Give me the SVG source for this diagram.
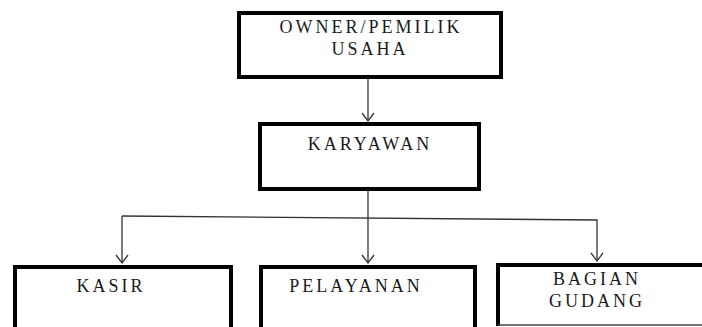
<svg xmlns="http://www.w3.org/2000/svg" width="702" height="327" viewBox="0 0 702 327">
<defs>
<style>
.box{fill:#fff;stroke:#000;stroke-width:4}
.lbl{font-family:"Liberation Serif","DejaVu Serif",serif;font-size:18px;letter-spacing:3px;fill:#1a1a1a;text-anchor:middle}
.con{fill:none;stroke:#333;stroke-width:1.3}
</style>
<marker id="arr" markerUnits="userSpaceOnUse" markerWidth="14" markerHeight="14" refX="12" refY="7" orient="auto" viewBox="0 0 14 14">
<path d="M4,1 L12,7 L4,13" fill="none" stroke="#333" stroke-width="1.3"/>
</marker>
</defs>
<rect width="702" height="327" fill="#fff"/>
<g id="connectors">
<line class="con" x1="368" y1="79" x2="368" y2="121" marker-end="url(#arr)"/>
<line class="con" x1="368" y1="191" x2="368" y2="263" marker-end="url(#arr)"/>
<polyline class="con" points="122,216 597,220 597,261" marker-end="url(#arr)"/>
<line class="con" x1="122" y1="216" x2="122" y2="263" marker-end="url(#arr)"/>
</g>
<g id="owner">
<rect class="box" x="239" y="13" width="262" height="64"/>
<text class="lbl" x="371" y="33">OWNER/PEMILIK</text>
<text class="lbl" x="370" y="55">USAHA</text>
</g>
<g id="karyawan">
<rect class="box" x="260" y="124" width="219" height="65"/>
<text class="lbl" x="370" y="150">KARYAWAN</text>
</g>
<g id="kasir">
<rect class="box" x="15" y="267" width="216" height="70"/>
<text class="lbl" x="111" y="292">KASIR</text>
</g>
<g id="pelayanan">
<rect class="box" x="261" y="267" width="214" height="70"/>
<text class="lbl" x="356" y="292">PELAYANAN</text>
</g>
<g id="gudang">
<rect x="498" y="265" width="220" height="60" fill="#fff"/>
<path d="M498,326 V265 H710" fill="none" stroke="#000" stroke-width="4"/>
<line x1="498" y1="325" x2="702" y2="325" stroke="#444" stroke-width="1.5"/>
<text class="lbl" x="597" y="285">BAGIAN</text>
<text class="lbl" x="597" y="307">GUDANG</text>
</g>
</svg>
